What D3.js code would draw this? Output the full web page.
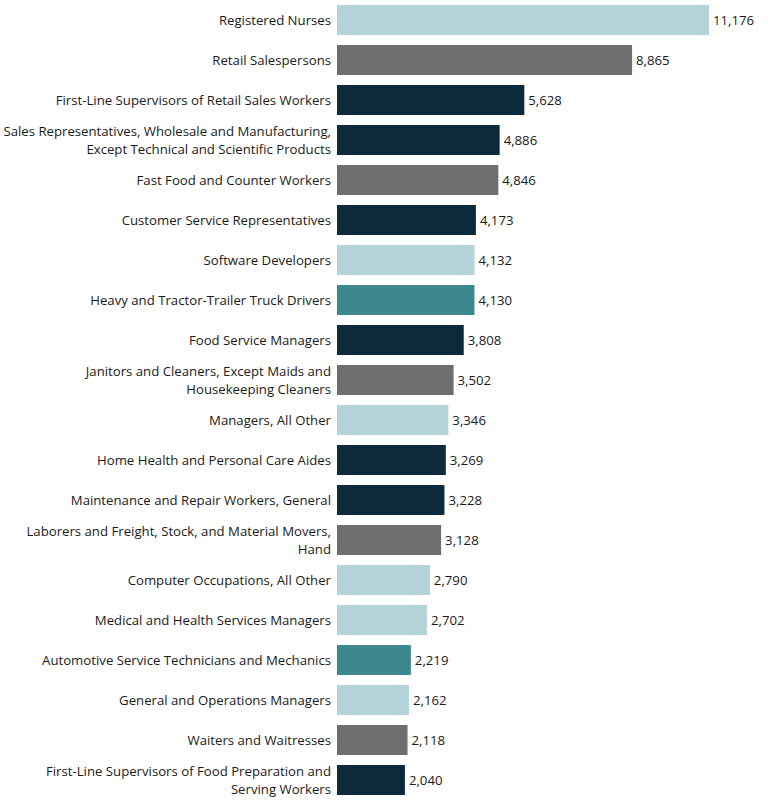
<!DOCTYPE html>
<html><head><meta charset="utf-8">
<script src="https://cdn.jsdelivr.net/npm/d3@7"></script>
<style>body{margin:0;background:#fff;} text{font-family:"Open Sans", sans-serif;}</style>
</head><body>
<svg id="chart" width="779" height="800"></svg>
<script>
const categories = [
 ["Registered Nurses"],
 ["Retail Salespersons"],
 ["First-Line Supervisors of Retail Sales Workers"],
 ["Sales Representatives, Wholesale and Manufacturing,","Except Technical and Scientific Products"],
 ["Fast Food and Counter Workers"],
 ["Customer Service Representatives"],
 ["Software Developers"],
 ["Heavy and Tractor-Trailer Truck Drivers"],
 ["Food Service Managers"],
 ["Janitors and Cleaners, Except Maids and","Housekeeping Cleaners"],
 ["Managers, All Other"],
 ["Home Health and Personal Care Aides"],
 ["Maintenance and Repair Workers, General"],
 ["Laborers and Freight, Stock, and Material Movers,","Hand"],
 ["Computer Occupations, All Other"],
 ["Medical and Health Services Managers"],
 ["Automotive Service Technicians and Mechanics"],
 ["General and Operations Managers"],
 ["Waiters and Waitresses"],
 ["First-Line Supervisors of Food Preparation and","Serving Workers"]
];
const values = [11176,8865,5628,4886,4846,4173,4132,4130,3808,3502,3346,3269,3228,3128,2790,2702,2219,2162,2118,2040];
const groups = ["light","gray","navy","navy","gray","navy","light","teal","navy","gray","light","navy","navy","gray","light","light","teal","light","gray","navy"];
const groupColors = {light:"#b4d4da", gray:"#6e6e6e", navy:"#0c2a3a", teal:"#3d878f"};

const svg = d3.select("#chart");
const x0 = 337;
const x = d3.scaleLinear().domain([0, 11176]).range([x0, 709]);
const y = d3.scaleBand().domain(d3.range(values.length)).range([0, 800]).paddingInner(0.25).paddingOuter(0.125);
const fs = 13.2;

const rows = svg.selectAll("g.row").data(values).join("g").attr("class","row");
rows.append("rect")
  .attr("x", x(0)).attr("y", (d,i)=>y(i))
  .attr("width", d=>x(d)-x(0)).attr("height", y.bandwidth())
  .attr("fill", (d,i)=>groupColors[groups[i]]);
rows.append("text")
  .attr("x", d=>x(d)+4).attr("y", (d,i)=>y(i)+y.bandwidth()/2)
  .attr("dy","0.38em").attr("font-size",fs).attr("fill","#1a1a1a")
  .text(d=>d3.format(",")(d));
rows.each(function(d,i){
  const lines = categories[i];
  const cy = y(i)+y.bandwidth()/2;
  const t = d3.select(this).append("text")
    .attr("x", 331).attr("text-anchor","end").attr("font-size",fs).attr("fill","#1a1a1a");
  lines.forEach((l,j)=>{
    t.append("tspan").attr("x",331)
     .attr("y", cy + (j - (lines.length-1)/2)*18)
     .attr("dy","0.38em").text(l);
  });
});
</script>
</body></html>
